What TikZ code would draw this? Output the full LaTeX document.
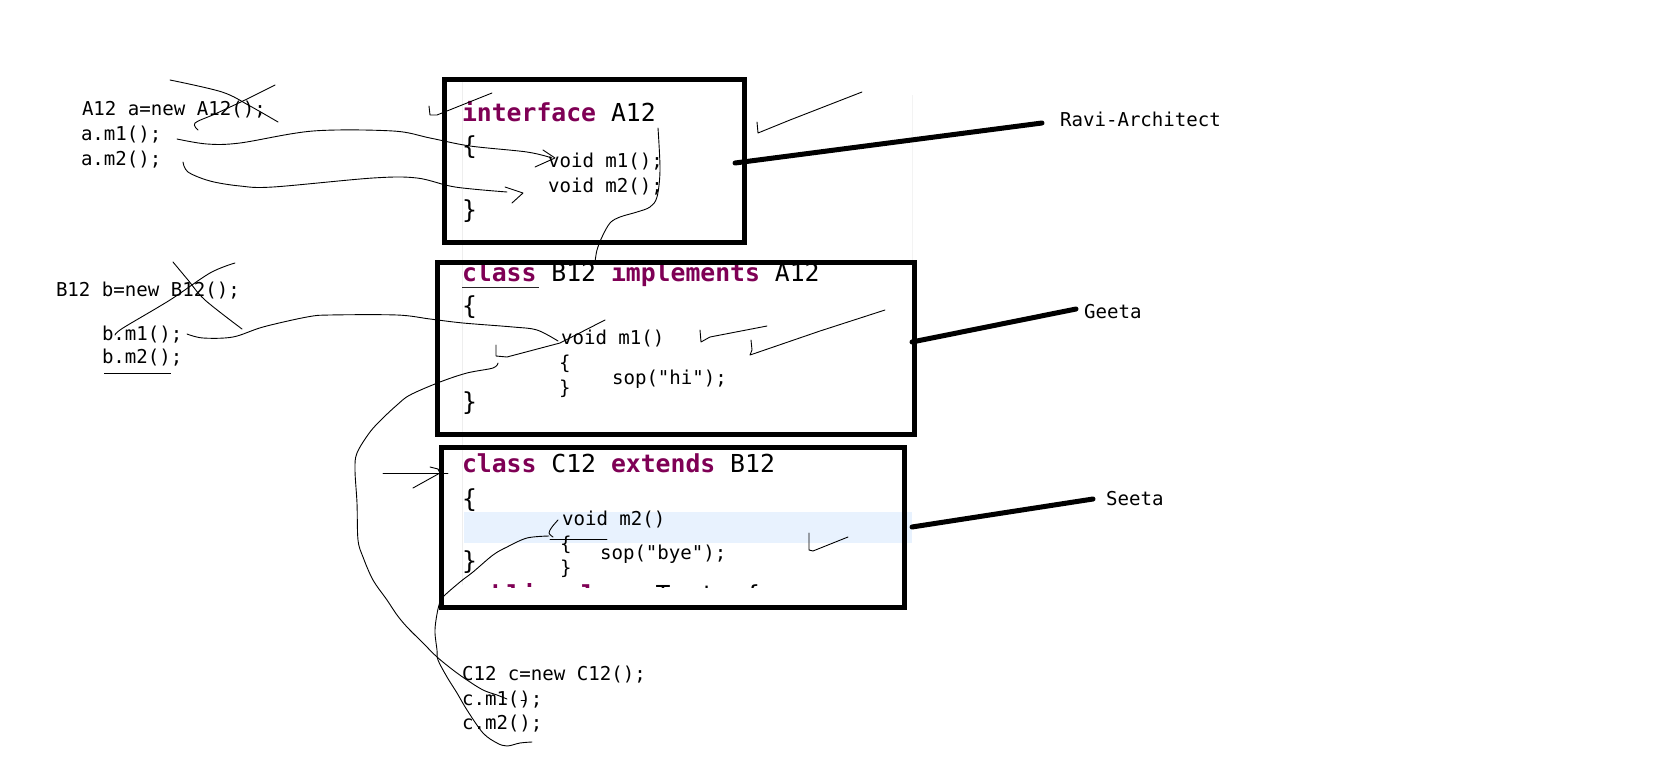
\documentclass[tikz,border=0pt]{standalone}
\usepackage{fontspec}
\newfontfamily\codefont{DejaVu Sans Mono}
\definecolor{kwpurple}{HTML}{7F0055}
\definecolor{linehl}{HTML}{E8F2FE}
\definecolor{gutter}{HTML}{EEEEEE}
\newcommand\kwd[1]{\textcolor{kwpurple}{\bfseries #1}}
\begin{document}
\begin{tikzpicture}[x=1pt,y=-1pt,
  smallcode/.style={anchor=base west, inner sep=0pt, outer sep=0pt,
    font=\codefont\fontsize{19.1}{22}\selectfont},
  bigcode/.style={anchor=base west, inner sep=0pt, outer sep=0pt,
    font=\codefont\fontsize{24.75}{28}\selectfont},
  codebox/.style={draw, line width=5pt, inner sep=0pt, fill=none},
  leader/.style={line width=5pt, line cap=round},
  pen/.style={line width=0.9pt, line cap=round, line join=round},
  curvy/.style={pen, smooth, tension=0.55}]
\useasboundingbox (0,0) rectangle (1676,763);
\fill[white] (0,0) rectangle (1676,763);

% editor backdrop details
\fill[linehl] (464,512) rectangle (912,543);
\draw[gutter, line width=1pt] (462,80) -- (462,585);
\draw[gutter!70, line width=1pt] (912,95) -- (912,260);

% client code on the left
\node[smallcode] (anew) at (82,115) {A12 a=new A12();};
\node[smallcode] (am1) at (81,140) {a.m1();};
\node[smallcode] (am2) at (81,165) {a.m2();};
\node[smallcode] (bnew) at (56,296) {B12 b=new B12();};
\node[smallcode] (bm1) at (102,340) {b.m1();};
\node[smallcode] (bm2) at (102,363) {b.m2();};
\draw[line width=0.9pt] (104,373) -- (171,373);
\node[smallcode] (cnew) at (462,680) {C12 c=new C12();};
\node[smallcode] (cm1) at (462,705) {c.m1();};
\node[smallcode] (cm2) at (462,729) {c.m2();};

% interface A12
\node[bigcode] (ahead) at (462,121) {\kwd{interface} A12};
\node[bigcode] (aopen) at (462,154) {\{};
\node[smallcode] (am1decl) at (548,167) {void m1();};
\node[smallcode] (am2decl) at (548,192) {void m2();};
\node[bigcode] (aclose) at (462,218) {\}};

% class B12
\node[bigcode] (bhead) at (462,281) {\kwd{class} B12 \kwd{implements} A12};
\draw[black!85, line width=0.9pt] (462,287.5) -- (539,287.5);
\node[bigcode] (bopen) at (462,314) {\{};
\node[smallcode] (bm1decl) at (561,344) {void m1()};
\node[smallcode] (bm1open) at (559,369) {\{};
\node[smallcode] (bm1close) at (559,394) {\}};
\node[smallcode] (bsop) at (612,384) {sop("hi");};
\node[bigcode] (bclose) at (462,410) {\}};

% class C12
\node[bigcode] (chead) at (462,472) {\kwd{class} C12 \kwd{extends} B12};
\node[bigcode] (copen) at (462,507) {\{};
\node[smallcode] (cm2decl) at (562,525) {void m2()};
\node[smallcode] (cm2open) at (560,550) {\{};
\node[smallcode] (cm2close) at (560,574) {\}};
\node[smallcode] (csop) at (600,559) {sop("bye");};
\node[bigcode] (cclose) at (462,569) {\}};
% next source line, cut off by the edge of the editor view
\begin{scope}
  \clip (462,583) rectangle (904,587);
  \node[bigcode] (cnext) at (462,603) {\kwd{public} \kwd{class} Test\ \ \{};
\end{scope}

% the three boxes
\node[codebox, minimum width=300pt, minimum height=163.5pt] (boxA) at (594,160.75) {};
\node[codebox, minimum width=477pt, minimum height=171.5pt] (boxB) at (675.5,348.25) {};
\node[codebox, minimum width=463pt, minimum height=160pt] (boxC) at (672.5,527) {};

% owners
\node[smallcode] (ravi) at (1060,126) {Ravi-Architect};
\node[smallcode] (geeta) at (1084,318) {Geeta};
\node[smallcode] (seeta) at (1106,505) {Seeta};
\coordinate (raviA) at (735,163);
\coordinate (raviB) at (1042,123);
\coordinate (geetaA) at (912,342);
\coordinate (geetaB) at (1076,309);
\coordinate (seetaA) at (912,527);
\coordinate (seetaB) at (1093,499);
\draw[leader] (raviA) -- (raviB);
\draw[leader] (geetaA) -- (geetaB);
\draw[leader] (seetaA) -- (seetaB);

% crossed-out constructions
\draw[curvy] plot coordinates {(170,80) (222,92) (250,106) (278,122)};
\draw[curvy] plot coordinates {(198,130) (195,123) (215,114) (245,100) (275,85)};
\draw[curvy] plot coordinates {(173,262) (188,280) (205,300) (242,329)};
\draw[curvy] plot coordinates {(235,263) (210,273) (170,300) (123,328) (115,335)};

% a.m1() and a.m2() into the interface
\draw[curvy] plot coordinates {(177,139) (207,144) (240,143) (313,131) (393,131) (430,138) (470,146) (527,152) (552,158)};
\draw[pen] (543,150) -- (555,158) -- (535,167);
\draw[curvy] plot coordinates {(183,162) (188,172) (210,181) (240,186) (273,187) (373,178) (417,178) (455,187) (507,192)};
\draw[pen] (505,187) -- (523,193) -- (512,203);

% ticks
\draw[pen] (429,106) -- (430,115) -- (437,115) -- (492,93);
\draw[pen] (757,122) -- (758,133) -- (790,120) -- (862,92);
\draw[pen] (700,330) -- (701,342) -- (710,337) -- (767,326);
\draw[pen] (751,340) -- (752,350) -- (750,355) -- (753,354) -- (820,331) -- (885,310);
\draw[pen] (496,345) -- (496,356) -- (507,357) -- (560,343) -- (605,320);
\draw[pen] (809,533) -- (809,550) -- (813,551) -- (848,537);

% interface down to the implementing class
\draw[curvy] plot coordinates {(658,128) (660,170) (657,197) (650,207) (637,212) (620,217) (610,223) (602,237) (597,250) (595,262)};

% b.m1() into B12
\draw[curvy] plot coordinates {(187,334) (203,338) (233,337) (263,327) (307,317) (330,315) (397,315) (430,319) (463,323) (513,327) (537,330) (558,341)};

% c.m1() reaches m1 inherited from B12
\draw[curvy] plot coordinates {(498,363) (493,368) (467,373) (440,382) (410,395) (397,405) (383,418) (370,432) (357,453) (355,470) (357,503) (358,540) (363,557) (373,580) (387,600) (397,615) (407,627) (423,643) (437,657) (453,670) (467,680) (483,690) (497,695) (507,699)};
\draw[pen] (521,700) -- (525,700);

% c.m2() reaches m2 in C12
\draw[curvy] plot coordinates {(558,520) (552,527) (549,533) (553,537)};
\draw[pen] (550,539) -- (607,539);
\draw[curvy] plot coordinates {(549,536) (527,538) (507,547) (493,555) (473,572) (460,582) (443,597) (439,605) (436,620) (435,633) (437,650) (438,660) (447,677) (457,693) (467,710) (483,733) (497,743) (507,746) (520,743) (532,742)};

% arrow at class C12
\draw[pen] (383,473) -- (448,473);
\draw[pen] (430,467) -- (438,469) -- (440,473);
\draw[pen] (413,488) -- (440,473);
\end{tikzpicture}
\end{document}
